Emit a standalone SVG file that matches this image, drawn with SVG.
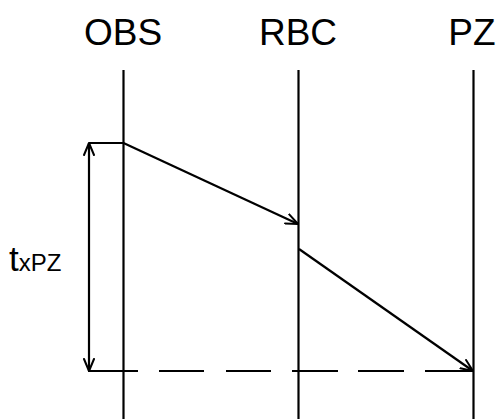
<svg xmlns="http://www.w3.org/2000/svg" width="499" height="419" viewBox="0 0 499 419">
<style>
.lbl{font-family:"Liberation Sans",Arial,sans-serif;font-size:37px;fill:#000;text-anchor:middle}
.ln{stroke:#000;stroke-width:2.2;fill:none}
.ah{stroke:#000;stroke-width:2;fill:none;stroke-linecap:round;stroke-linejoin:round}
</style>
<defs>
<marker id="a" viewBox="0 0 14 12" refX="13" refY="6" markerWidth="14" markerHeight="12" markerUnits="userSpaceOnUse" orient="auto-start-reverse">
<path d="M1,1 L13,6 L1,11" class="ah"/>
</marker>
</defs>
<rect width="499" height="419" fill="#fff"/>
<g id="obs"><text class="lbl" x="123" y="45">OBS</text><line class="ln" x1="123.5" y1="70" x2="123.5" y2="419"/></g>
<g id="rbc"><text class="lbl" x="298" y="45">RBC</text><line class="ln" x1="298.5" y1="70" x2="298.5" y2="419"/></g>
<g id="pz"><text class="lbl" x="472" y="45">PZ</text><line class="ln" x1="473.5" y1="70" x2="473.5" y2="419"/></g>
<g id="txpz"><text x="9" y="271" style="font-family:'Liberation Sans',Arial,sans-serif;font-size:35px">t<tspan style="font-size:24px">xPZ</tspan></text></g>
<g id="connectors">
<line class="ln" x1="89" y1="143" x2="123.5" y2="143"/>
<line class="ln" x1="89" y1="143" x2="89" y2="371" marker-start="url(#a)" marker-end="url(#a)"/>
<line class="ln" x1="123.5" y1="143" x2="298" y2="224" marker-end="url(#a)"/>
<line class="ln" x1="299" y1="249" x2="473" y2="371" marker-end="url(#a)"/>
<path class="ln" d="M88,371H138M159,371H204M226,371H271M292,371H338M358,371H404M425,371H474"/>
</g>
</svg>
